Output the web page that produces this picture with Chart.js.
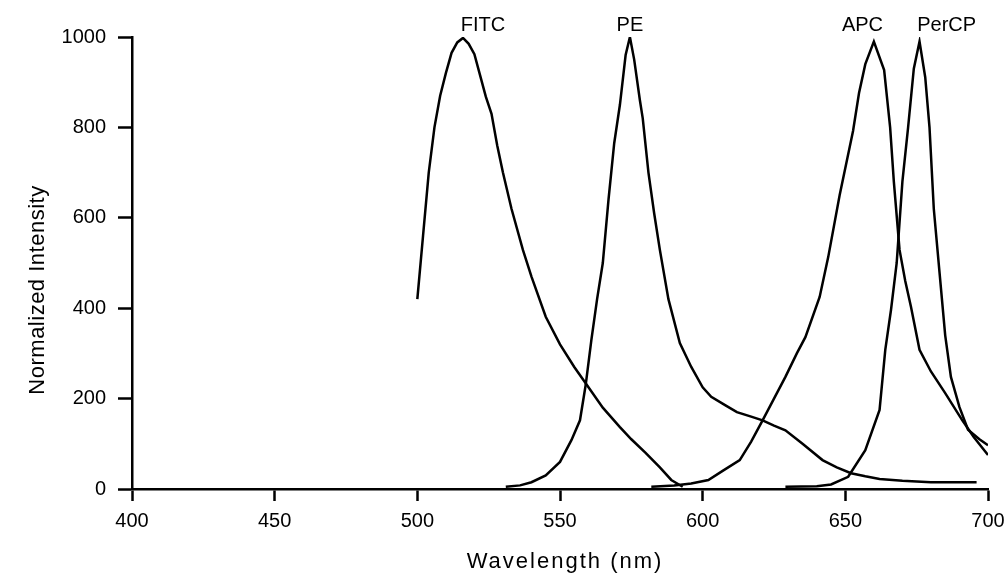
<!DOCTYPE html>
<html>
<head>
<meta charset="utf-8">
<script src="https://cdn.jsdelivr.net/npm/chart.js@4"></script>
<style>
  html, body { margin: 0; padding: 0; background: #fff; }
  #wrap { width: 1006px; height: 574px; }
</style>
</head>
<body>
<div id="wrap"><canvas id="spectra"></canvas></div>
<script>
// Emission spectra (wavelength in nm, normalized intensity)
const fitcNm  = [500, 502, 504, 506, 508, 510, 512, 514, 516, 518, 520, 522, 524, 526, 528, 530, 533, 537, 540, 545, 550, 555, 559, 565, 571, 575, 580, 585, 589, 593];
const fitcVal = [420, 560, 700, 800, 870, 920, 965, 988, 998, 985, 962, 915, 868, 830, 760, 700, 620, 529, 470, 381, 320, 270, 234, 180, 137, 110, 80, 48, 20, 5];

const peNm  = [531, 536, 540, 545, 550, 554, 557, 559, 561, 563, 565, 567, 569, 571, 573, 574.5, 576, 578, 579, 581, 583, 585, 588, 592, 596, 600, 603, 608, 612, 617, 621, 625, 629, 635, 642, 647, 652, 657, 662, 670, 680, 696];
const peVal = [5, 8, 15, 30, 60, 108, 152, 230, 330, 420, 500, 640, 765, 850, 960, 1000, 950, 860, 820, 700, 610, 529, 420, 323, 270, 225, 204, 185, 170, 160, 152, 140, 130, 100, 64, 48, 35, 28, 22, 18, 15, 15];

const apcNm  = [582, 590, 596, 602, 607, 613, 617, 621, 625, 629, 633, 636, 641, 644, 648, 652.7, 654.8, 657, 660, 663.6, 665.7, 667, 669, 671, 673, 676, 680, 685, 691, 695, 700];
const apcVal = [5, 8, 12, 20, 40, 64, 105, 152, 200, 248, 300, 336, 425, 513, 650, 792, 876, 940, 990, 927, 800, 680, 529, 460, 403, 308, 260, 212, 152, 115, 75];

const percpNm  = [629, 640, 645, 651, 657, 662, 664, 666, 668, 670, 672, 674, 676, 678, 679.5, 681, 683, 685, 687, 690, 693, 697, 700];
const percpVal = [5, 6, 10, 27, 86, 175, 308, 396, 500, 680, 800, 930, 990, 911, 800, 620, 480, 340, 248, 181, 131, 110, 97];

const seriesNames = ["FITC", "PE", "APC", "PerCP"];
const labelNm = [523, 574.5, 656, 685.5];   // where each name sits above its peak

const xTicks = [400, 450, 500, 550, 600, 650, 700];
const yTicks = [0, 200, 400, 600, 800, 1000];

const allNm  = [fitcNm, peNm, apcNm, percpNm];
const allVal = [fitcVal, peVal, apcVal, percpVal];

const FONT = "'Liberation Sans', Arial, sans-serif";

const datasets = seriesNames.map(function (name, i) {
    return {
        label: name,
        data: allNm[i].map(function (x, j) { return { x: x, y: allVal[i][j] }; }),
        borderColor: "#000",
        borderWidth: 2.5,
        pointRadius: 0,
        tension: 0,
        fill: false
    };
});

// peak names + axis titles
const textPlugin = {
    id: "texts",
    afterDraw: function (chart) {
        const ctx = chart.ctx;
        const xs = chart.scales.x;
        const top = chart.chartArea.top;
        ctx.save();
        ctx.fillStyle = "#000";
        ctx.textAlign = "center";
        ctx.textBaseline = "middle";
        ctx.font = "20px " + FONT;
        seriesNames.forEach(function (name, i) {
            ctx.fillText(name, xs.getPixelForValue(labelNm[i]), top - 12);
        });

        ctx.font = "22px " + FONT;
        ctx.letterSpacing = "2px";
        ctx.fillText("Wavelength (nm)", (chart.chartArea.left + chart.chartArea.right) / 2 + 5, 562);

        ctx.translate(38, 290);
        ctx.rotate(-Math.PI / 2);
        ctx.letterSpacing = "0.5px";
        ctx.fillText("Normalized Intensity", 0, 0);
        ctx.restore();
    }
};

new Chart(document.getElementById("spectra").getContext("2d"), {
    type: "line",
    data: { datasets: datasets },
    options: {
        responsive: true,
        maintainAspectRatio: false,
        animation: false,
        layout: { padding: { top: 37, right: 18, left: 0, bottom: 0 } },
        plugins: {
            legend: { display: false },
            tooltip: { enabled: false }
        },
        scales: {
            x: {
                type: "linear",
                min: 400,
                max: 700,
                afterBuildTicks: function (s) { s.ticks = xTicks.map(function (v) { return { value: v }; }); },
                afterFit: function (s) { s.height = 85; s.paddingLeft = 0; s.paddingRight = 0; },
                ticks: { color: "#000", font: { family: FONT, size: 20 }, padding: 8, maxRotation: 0,
                         callback: function (v) { return String(v); } },
                grid: { drawOnChartArea: false, drawTicks: true, tickLength: 12, tickColor: "#000", tickWidth: 2.5 },
                border: { display: true, color: "#000", width: 2.5 }
            },
            y: {
                min: 0,
                max: 1000,
                afterBuildTicks: function (s) { s.ticks = yTicks.map(function (v) { return { value: v }; }); },
                afterFit: function (s) { s.width = 132; },
                ticks: { color: "#000", font: { family: FONT, size: 20 }, padding: 12,
                         callback: function (v) { return String(v); } },
                grid: { drawOnChartArea: false, drawTicks: true, tickLength: 14, tickColor: "#000", tickWidth: 2.5 },
                border: { display: true, color: "#000", width: 2.5 }
            }
        }
    },
    plugins: [textPlugin]
});
</script>
</body>
</html>
